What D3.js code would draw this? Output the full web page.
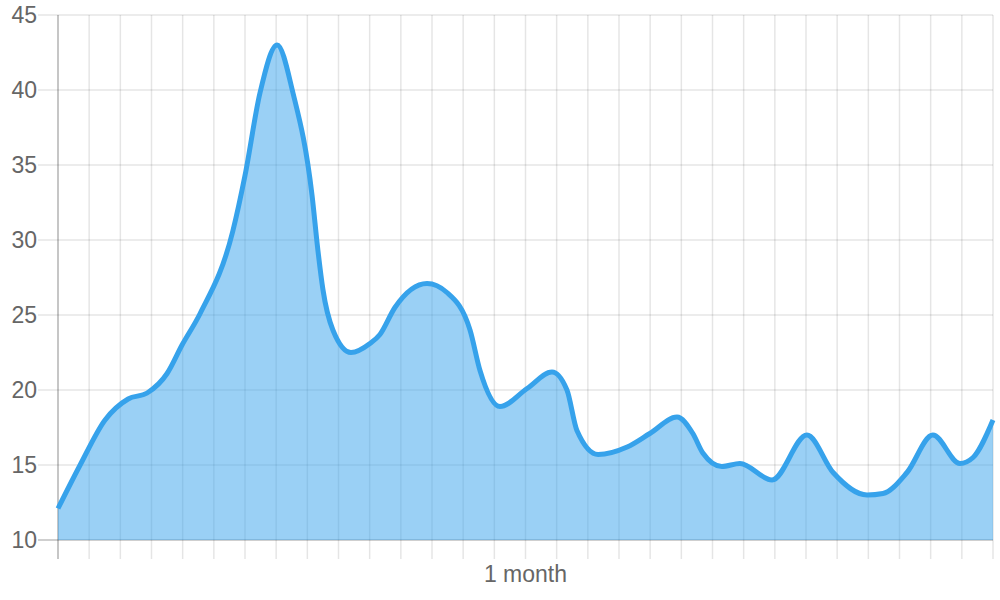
<html>
<head>
<script src="https://cdn.jsdelivr.net/npm/d3@7/dist/d3.min.js" charset="utf-8"></script>
<style>
  body { margin: 0; background: #fff; }
  text { font-family: "Liberation Sans", Arial, sans-serif; fill: #666; }
</style>
</head>
<body>
<svg id="chart" width="1000" height="600"></svg>
<script>

    // time of each reading, in days since start
    var days = [0, 0.71, 1.51, 2.25, 2.86, 3.5, 3.98, 4.56, 5.61, 6.0,
                6.48, 7.03, 7.54, 8.15, 8.34, 8.5, 8.82, 9.4, 10.01, 10.33,
                10.81, 11.84, 12.48, 13.22, 13.54, 14.18, 15.05, 15.85, 16.33, 16.65,
                17.33, 18.26, 18.99, 19.86, 20.37, 20.69, 21.3, 21.88, 22.91, 24.03,
                24.87, 25.96, 26.47, 27.24, 28.07, 28.94, 29.36, 30];
    var values = [12.1, 15.0, 18.0, 19.4, 19.8, 21.1, 23.0, 25.1, 30.6, 34.3,
                  39.8, 43.0, 39.8, 33.0, 29.3, 26.7, 24.0, 22.5, 23.1, 23.7,
                  25.5, 27.1, 26.5, 24.0, 21.3, 18.9, 20.1, 21.2, 20.0, 17.3,
                  15.7, 16.2, 17.1, 18.2, 17.1, 15.8, 14.9, 15.1, 14.0, 17.0,
                  14.5, 13.0, 13.1, 14.5, 17.0, 15.1, 15.5, 18.0];

    var yTicks = [10, 15, 20, 25, 30, 35, 40, 45];
    var xTickDays = d3.range(0, 31);
    var xLabels = [{day: 15, text: "1 month"}];

    var padL = 58, padR = 993, padT = 15, padB = 540;

    var svg = d3.select("#chart");

    var x = d3.scaleLinear().domain([0, 30]).range([padL, padR]);
    var y = d3.scaleLinear().domain([10, 45]).range([padB, padT]);

    var data = days.map(function(d, i){ return {day: d, v: values[i]}; });

    // grid
    svg.append("g").selectAll("line")
        .data(yTicks)
        .enter()
        .append("line")
        .attr("x1", padL - 20)
        .attr("x2", padR)
        .attr("y1", function(d){ return y(d); })
        .attr("y2", function(d){ return y(d); })
        .style("stroke", function(d){ return d == 10 ? "rgba(0,0,0,0.25)" : "rgba(0,0,0,0.1)"; })
        .style("stroke-width", 1.5);

    svg.append("g").selectAll("line")
        .data(xTickDays)
        .enter()
        .append("line")
        .attr("x1", function(d){ return x(d); })
        .attr("x2", function(d){ return x(d); })
        .attr("y1", padT)
        .attr("y2", padB + 19)
        .style("stroke", function(d){ return d == 0 ? "rgba(0,0,0,0.3)" : "rgba(0,0,0,0.1)"; })
        .style("stroke-width", 1.5);

    // y labels
    svg.append("g").selectAll("text")
        .data(yTicks)
        .enter()
        .append("text")
        .attr("x", 37)
        .attr("y", function(d){ return y(d) + 8; })
        .attr("text-anchor", "end")
        .attr("font-size", 23)
        .text(function(d){ return d; });

    // x label
    svg.append("g").selectAll("text")
        .data(xLabels)
        .enter()
        .append("text")
        .attr("x", function(d){ return x(d.day); })
        .attr("y", 582)
        .attr("text-anchor", "middle")
        .attr("font-size", 23)
        .text(function(d){ return d.text; });

    var area = d3.area()
        .x(function(d){ return x(d.day); })
        .y0(y(10))
        .y1(function(d){ return y(d.v); })
        .curve(d3.curveMonotoneX);

    var line = d3.line()
        .x(function(d){ return x(d.day); })
        .y(function(d){ return y(d.v); })
        .curve(d3.curveMonotoneX);

    svg.append("path")
        .datum(data)
        .attr("d", area)
        .style("fill", "rgba(54,162,235,0.5)");

    svg.append("path")
        .datum(data)
        .attr("d", line)
        .style("fill", "none")
        .style("stroke", "#36A2EB")
        .style("stroke-width", 5)
        .style("stroke-linejoin", "round");

</script>
</body>
</html>
